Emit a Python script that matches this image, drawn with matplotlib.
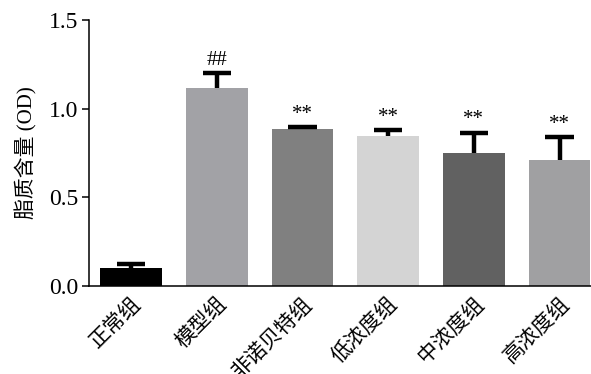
import numpy as np
import matplotlib.pyplot as plt

plt.rcParams['font.family'] = ['Liberation Serif', 'Noto Sans CJK SC']

# Group names, means and errors
groups = ["正常组", "模型组", "非诺贝特组", "低浓度组", "中浓度组", "高浓度组"]
means = [0.10, 1.118, 0.884, 0.844, 0.75, 0.712]
errors = [0.026, 0.082, 0.011, 0.036, 0.115, 0.128]
marks = ["", "##", "**", "**", "**", "**"]
colors = ["#000000", "#a2a2a6", "#808080", "#d4d4d4", "#616161", "#a0a0a2"]

fig = plt.figure(figsize=(5.91, 3.74), dpi=100)
ax = fig.add_axes([0.1506, 0.2353, 0.86, 0.7112])

x = np.arange(len(groups))
means = np.array(means)
tops = means + np.array(errors)

ax.bar(x, means, width=0.72, color=colors, zorder=2)

# upper error bars only: stem plus top cap
ax.vlines(x, means, tops, color="black", linewidth=3.2, zorder=3)
ax.hlines(tops, x - 0.165, x + 0.165, color="black", linewidth=3.2, zorder=3)

for xi, t, s in zip(x, tops, marks):
    if s:
        ax.text(xi, t + 0.018, s, ha="center", va="bottom", fontsize=15)

ax.set_xlim(-0.49, 5.44)
ax.set_ylim(0, 1.5)
ax.set_yticks([0.0, 0.5, 1.0, 1.5])
ax.set_yticklabels(["0.0", "0.5", "1.0", "1.5"])
ax.set_xticks(x)
ax.set_xticklabels(groups, rotation=45, ha="right", rotation_mode="anchor")

ax.spines["top"].set_visible(False)
ax.spines["right"].set_visible(False)
ax.spines["left"].set_linewidth(1.1)
ax.spines["bottom"].set_linewidth(1.1)

ax.tick_params(axis="y", direction="out", length=5, width=1.1, labelsize=17, pad=3)
ax.tick_params(axis="x", direction="in", length=5, width=1.1, labelsize=15, pad=6)

ax.set_ylabel("脂质含量 (OD)", fontsize=15, labelpad=8)

fig.savefig("out.png", dpi=100)
